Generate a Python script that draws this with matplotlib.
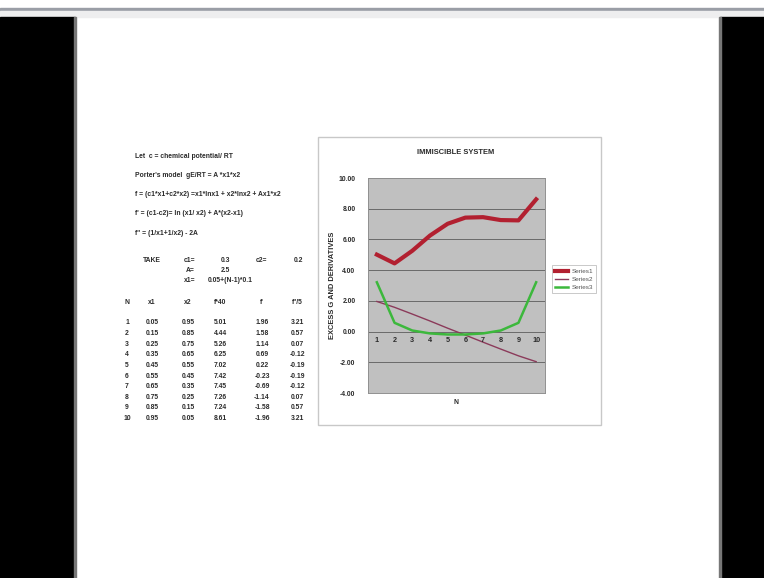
import numpy as np
import matplotlib.pyplot as plt
from matplotlib.patches import Rectangle

# ---- data from the spreadsheet ----
N = [1, 2, 3, 4, 5, 6, 7, 8, 9, 10]
x1 = ["0.05", "0.15", "0.25", "0.35", "0.45", "0.55", "0.65", "0.75", "0.85", "0.95"]
x2 = ["0.95", "0.85", "0.75", "0.65", "0.55", "0.45", "0.35", "0.25", "0.15", "0.05"]
f40 = [5.01, 4.44, 5.26, 6.25, 7.02, 7.42, 7.45, 7.26, 7.24, 8.61]
f1 = [1.96, 1.58, 1.14, 0.69, 0.22, -0.23, -0.69, -1.14, -1.58, -1.96]
f2 = [3.21, 0.57, 0.07, -0.12, -0.19, -0.19, -0.12, 0.07, 0.57, 3.21]

notes = ["Let  c = chemical potential/ RT",
         "Porter's model  gE/RT = A *x1*x2",
         "f = (c1*x1+c2*x2) =x1*lnx1 + x2*lnx2 + Ax1*x2",
         "f' = (c1-c2)= ln (x1/ x2) + A*(x2-x1)",
         "f'' = (1/x1+1/x2) - 2A"]
headers = ["N", "x1", "x2", "f*40", "f'", "f''/5"]

W, H = 764, 578
fig = plt.figure(figsize=(W / 100, H / 100), dpi=100)
fig.patch.set_facecolor("white")

def px(x, y):
    return x / W, 1 - y / H

def add_rect(x, y_bottom, w, h, **kw):
    r = Rectangle(px(x, y_bottom), w / W, h / H, transform=fig.transFigure, **kw)
    fig.patches.append(r)
    return r

# screen frame: grey bar on top, black side bars
add_rect(0, 11, W, 2.5, color="#9a9ea6")
add_rect(0, 17, W, 6, color="#eeeeef")
add_rect(0, H, 75, H - 17, color="black")
add_rect(720, H, 44, H - 17, color="black")
add_rect(74, H, 2, H - 17, color="#777777")
add_rect(719, H, 2, H - 17, color="#777777")

font = dict(family="Liberation Sans", fontweight="bold", fontsize=4.9, color="#2a2a2a")

# notes on the left
for i, line in enumerate(notes):
    fig.text(*px(135, 156 + i * 19.3), line, ha="left", va="center", **font)

# parameters block
take_rows = [(261, [("TAKE", 152), ("c1=", 190), ("0.3", 225), ("c2=", 262), ("0.2", 298)]),
             (270, [("A=", 190), ("2.5", 225)]),
             (281, [("x1=", 190), ("0.05+(N-1)*0.1", 230)])]
for y, items in take_rows:
    for s, x in items:
        fig.text(*px(x, y), s, ha="center", va="center", **font)

# table
col_x = [127, 152, 188, 220, 262, 297]
for s, x in zip(headers, col_x):
    fig.text(*px(x, 303), s, ha="center", va="center", **font)
for i in range(len(N)):
    row = [str(N[i]), x1[i], x2[i], f"{f40[i]:.2f}", f"{f1[i]:.2f}", f"{f2[i]:.2f}"]
    for s, x in zip(row, col_x):
        fig.text(*px(x, 323 + i * 10.6), s, ha="center", va="center", **font)

# chart area box (behind the axes)
add_rect(318, 425, 601 - 318, 425 - 137, facecolor="white",
         edgecolor="#c8c8c8", linewidth=1.0, zorder=-1)

# plot area
x0, x1p, y0, y1p = 368, 545, 178, 393
ax = fig.add_axes([x0 / W, 1 - y1p / H, (x1p - x0) / W, (y1p - y0) / H])
ax.set_facecolor("#c0c0c0")
pos = np.arange(len(N))
ax.plot(pos, f40, color="#b22030", linewidth=3.0, label="Series1", zorder=3)
ax.plot(pos, f1, color="#8b3a5a", linewidth=1.0, label="Series2", zorder=3)
ax.plot(pos, f2, color="#3cb83c", linewidth=1.8, label="Series3", zorder=3)
ax.set_xlim(-0.5, 9.5)
ax.set_ylim(-4, 10)
yt = np.arange(-4, 11, 2)
ax.set_yticks(yt)
ax.set_yticklabels([f"{v:.2f}" for v in yt])
ax.grid(axis="y", color="#6a6a6a", linewidth=0.7)
ax.set_axisbelow(True)
ax.set_xticks([])
for i, n in enumerate(N):
    ax.text(i, -0.6, str(n), ha="center", va="center", **{**font, "fontsize": 5.2})
ax.tick_params(axis="y", length=0, pad=9, labelsize=4.9, labelcolor="#2a2a2a")
for lbl in ax.get_yticklabels():
    lbl.set_fontfamily("Liberation Sans")
    lbl.set_fontweight("bold")
for sp in ax.spines.values():
    sp.set_color("#909090")
    sp.set_linewidth(0.7)

fig.text(*px(456, 152), "IMMISCIBLE SYSTEM", ha="center", va="center",
         **{**font, "fontsize": 5.4})
fig.text(*px(333, 285), "EXCESS G AND DERIVATIVES", ha="center", va="center",
         rotation=90, **{**font, "fontsize": 5.4})
fig.text(*px(456, 403), "N", ha="center", va="center", **font)

leg = fig.legend(loc="upper left", bbox_to_anchor=px(549, 262), frameon=True,
                 prop=dict(family="Liberation Sans", size=4.6), handlelength=2.0,
                 handletextpad=0.5, borderpad=0.5, labelspacing=0.4, fancybox=False)
leg.get_frame().set_edgecolor("#b0b0b0")
leg.get_frame().set_linewidth(0.6)
for t in leg.get_texts():
    t.set_color("#555555")

fig.savefig("out.png", dpi=100)
